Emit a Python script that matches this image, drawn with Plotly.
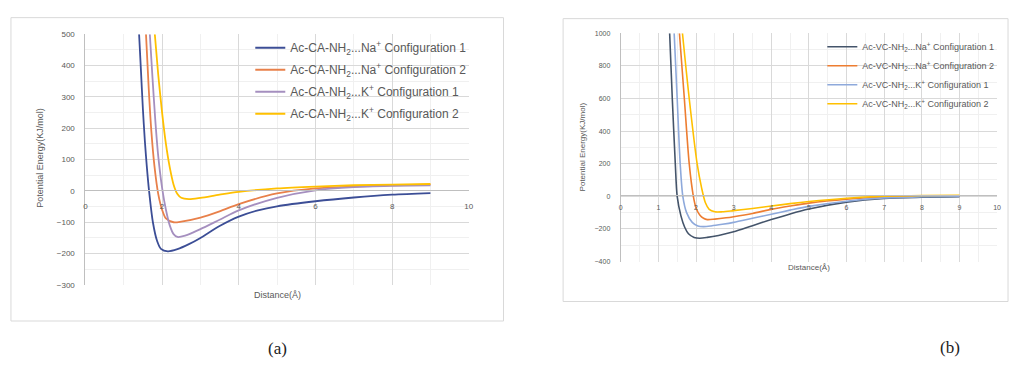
import plotly.graph_objects as go

W, H = 1019, 366

# ---------------- data: panel (a) Ac-CA-NH2 complexes ----------------
a_na1_x = [1.40, 1.45, 1.50, 1.55, 1.60, 1.66, 1.76, 1.87, 1.97, 2.15, 2.40, 2.70, 3.00, 3.50, 4.00, 4.50, 5.00, 6.00, 7.00, 8.00, 9.00]
a_na1_y = [500, 380, 260, 160, 80, 0, -100, -160, -185, -193, -186, -170, -150, -112, -82, -62, -49, -33, -21, -12, -7]

a_na2_x = [1.58, 1.65, 1.72, 1.80, 1.90, 2.00, 2.10, 2.30, 2.50, 3.00, 3.50, 4.00, 5.00, 6.00, 7.00, 8.00, 9.00]
a_na2_y = [500, 330, 190, 80, -10, -60, -88, -100, -98, -85, -65, -42, -8, 8, 14, 18, 20]

a_k1_x = [1.68, 1.75, 1.82, 1.90, 2.00, 2.10, 2.20, 2.30, 2.40, 2.60, 2.80, 3.00, 3.50, 4.00, 5.00, 6.00, 7.00, 8.00, 9.00]
a_k1_y = [500, 360, 230, 110, 10, -60, -110, -138, -147, -143, -133, -122, -92, -62, -22, 2, 12, 16, 18]

a_k2_x = [1.81, 1.90, 2.00, 2.10, 2.20, 2.30, 2.40, 2.50, 2.70, 3.00, 3.50, 4.00, 5.00, 6.00, 7.00, 8.00, 9.00]
a_k2_y = [500, 370, 250, 150, 75, 20, -10, -22, -26, -22, -12, -3, 8, 14, 18, 20, 22]

a_names = ["Ac-CA-NH<sub>2</sub>...Na<sup>+</sup> Configuration 1",
           "Ac-CA-NH<sub>2</sub>...Na<sup>+</sup> Configuration 2",
           "Ac-CA-NH<sub>2</sub>...K<sup>+</sup> Configuration 1",
           "Ac-CA-NH<sub>2</sub>...K<sup>+</sup> Configuration 2"]

# ---------------- data: panel (b) Ac-VC-NH2 complexes ----------------
b_na1_x = [1.30, 1.37, 1.45, 1.50, 1.60, 1.70, 1.80, 1.95, 2.10, 2.30, 2.60, 3.00, 3.50, 4.00, 4.50, 5.00, 6.00, 7.00, 8.00, 9.00]
b_na1_y = [1000, 600, 200, 0, -120, -190, -230, -252, -257, -252, -240, -218, -180, -143, -108, -78, -36, -13, -6, -3]

b_na2_x = [1.56, 1.69, 1.82, 1.93, 2.00, 2.10, 2.20, 2.30, 2.50, 2.80, 3.00, 3.50, 4.00, 4.50, 5.00, 6.00, 7.00, 8.00, 9.00]
b_na2_y = [1000, 600, 200, 0, -70, -115, -135, -143, -140, -132, -125, -105, -80, -60, -42, -18, -4, 2, 3]

b_k1_x = [1.42, 1.50, 1.58, 1.65, 1.75, 1.90, 2.05, 2.20, 2.40, 2.70, 3.00, 3.50, 4.00, 4.50, 5.00, 6.00, 7.00, 8.00, 9.00]
b_k1_y = [1000, 600, 200, 0, -100, -160, -182, -186, -182, -172, -160, -135, -110, -85, -62, -30, -10, -3, 0]

b_k2_x = [1.64, 1.82, 2.03, 2.15, 2.25, 2.35, 2.50, 2.70, 3.00, 3.50, 4.00, 4.50, 5.00, 6.00, 7.00, 8.00, 9.00]
b_k2_y = [1000, 600, 200, 50, -40, -80, -95, -95, -88, -75, -60, -45, -32, -12, 0, 5, 6]

b_names = ["Ac-VC-NH<sub>2</sub>...Na<sup>+</sup> Configuration 1",
           "Ac-VC-NH<sub>2</sub>...Na<sup>+</sup> Configuration 2",
           "Ac-VC-NH<sub>2</sub>...K<sup>+</sup> Configuration 1",
           "Ac-VC-NH<sub>2</sub>...K<sup>+</sup> Configuration 2"]

a_colors = ["#3C4E96", "#E8804A", "#A58FBF", "#FFC000"]
b_colors = ["#44546A", "#ED7D31", "#8EA9DB", "#FFC000"]

TXT = "#595959"
GRID = "#D9D9D9"
MINOR = "#F0F0F0"
FONT = "Liberation Sans"


def px_x(p):
    return p / W


def px_y(p):
    return 1 - p / H


fig = go.Figure()

a_series = [(a_na1_x, a_na1_y), (a_na2_x, a_na2_y), (a_k1_x, a_k1_y), (a_k2_x, a_k2_y)]
for i, (xs, ys) in enumerate(a_series):
    fig.add_trace(go.Scatter(x=xs, y=ys, mode="lines", name=a_names[i],
                             line=dict(color=a_colors[i], width=1.8, shape="spline", smoothing=0.8),
                             xaxis="x", yaxis="y", legend="legend", legendgroup="a%d" % i))

b_series = [(b_na1_x, b_na1_y), (b_na2_x, b_na2_y), (b_k1_x, b_k1_y), (b_k2_x, b_k2_y)]
for i, (xs, ys) in enumerate(b_series):
    fig.add_trace(go.Scatter(x=xs, y=ys, mode="lines", name=b_names[i],
                             line=dict(color=b_colors[i], width=1.6, shape="spline", smoothing=0.8),
                             xaxis="x2", yaxis="y2", legend="legend2"))

tick_font_a = dict(family=FONT, size=8, color=TXT)
tick_font_b = dict(family=FONT, size=7, color=TXT)

fig.update_layout(
    width=W, height=H,
    margin=dict(l=0, r=0, t=0, b=0),
    paper_bgcolor="white", plot_bgcolor="white",
    font=dict(family=FONT, color=TXT),
    xaxis=dict(domain=[px_x(84), px_x(470)], range=[0, 10], dtick=2,
               anchor="free", position=px_y(191),
               showline=True, linecolor="#BFBFBF", linewidth=1,
               showgrid=True, gridcolor=GRID, zeroline=False, ticks="",
               minor=dict(dtick=1, showgrid=True, gridcolor=MINOR),
               ticklabelstandoff=8, tickfont=tick_font_a, fixedrange=True),
    yaxis=dict(domain=[px_y(288), px_y(31)], range=[-300, 500], dtick=100,
               anchor="x", showline=True, linecolor="#BFBFBF", linewidth=1,
               showgrid=True, gridcolor=GRID, zeroline=False, ticks="",
               minor=dict(dtick=50, showgrid=True, gridcolor=MINOR),
               ticklabelstandoff=8, tickfont=tick_font_a, fixedrange=True),
    xaxis2=dict(domain=[px_x(623), px_x(1002)], range=[0, 10], dtick=1,
                anchor="free", position=px_y(196),
                showline=True, linecolor="#BFBFBF", linewidth=1,
                showgrid=True, gridcolor=GRID, zeroline=False, ticks="",
                minor=dict(dtick=0.5, showgrid=True, gridcolor=MINOR),
                ticklabelstandoff=5, tickfont=tick_font_b, fixedrange=True),
    yaxis2=dict(domain=[px_y(264), px_y(30)], range=[-400, 1000], dtick=200,
                anchor="x2", showline=True, linecolor="#BFBFBF", linewidth=1,
                showgrid=True, gridcolor=GRID, zeroline=False, ticks="",
                minor=dict(dtick=100, showgrid=True, gridcolor=MINOR),
                ticklabelstandoff=8, tickfont=tick_font_b, fixedrange=True),
    legend=dict(x=px_x(250), y=px_y(30), xanchor="left", yanchor="top",
                bgcolor="rgba(0,0,0,0)", font=dict(family=FONT, size=12, color=TXT),
                itemwidth=30, tracegroupgap=3, traceorder="grouped"),
    legend2=dict(x=px_x(826), y=px_y(29), xanchor="left", yanchor="top",
                 bgcolor="rgba(0,0,0,0)", font=dict(family=FONT, size=9, color=TXT),
                 itemwidth=30, traceorder="normal"),
    showlegend=True,
)

# chart frames
fig.add_shape(type="rect", xref="paper", yref="paper",
              x0=px_x(9), x1=px_x(505), y0=px_y(325), y1=px_y(14),
              line=dict(color=GRID, width=1), layer="below")
fig.add_shape(type="rect", xref="paper", yref="paper",
              x0=px_x(565), x1=px_x(1013), y0=px_y(305), y1=px_y(15),
              line=dict(color=GRID, width=1), layer="below")


def note(text, x, y, size, family=FONT, color=TXT, angle=0):
    fig.add_annotation(text=text, xref="paper", yref="paper",
                       x=px_x(x), y=px_y(y), xanchor="center", yanchor="middle",
                       textangle=angle, showarrow=False,
                       font=dict(family=family, size=size, color=color))


# axis titles
note("Potential Energy(KJ/mol)", 38, 158, 9, angle=-90)
note("Distance(Å)", 277, 298, 9)
note("Potential Energy(KJ/mol)", 584, 146, 8, angle=-90)
note("Distance(Å)", 813, 270, 8)

# panel captions
note("(a)", 277, 353, 17, family="Liberation Serif", color="#222222")
note("(b)", 955, 352, 17, family="Liberation Serif", color="#222222")

fig.write_html("out.html", config={"displayModeBar": False},
               post_script="document.body.style.margin='0px';")
